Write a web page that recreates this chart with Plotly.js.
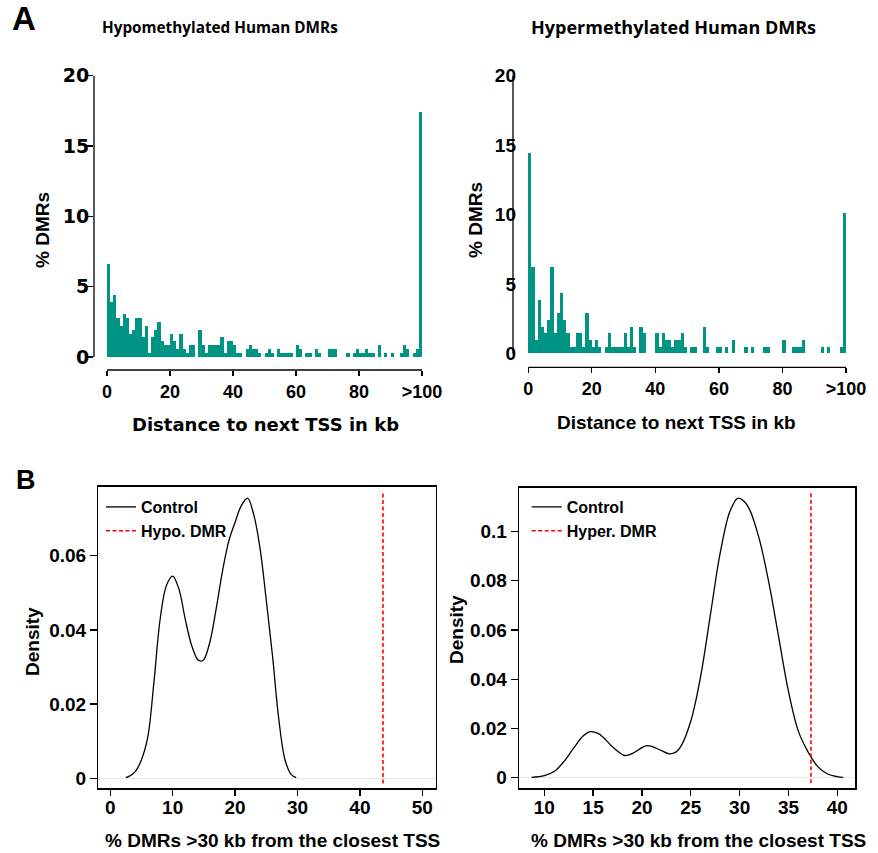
<!DOCTYPE html>
<html>
<head>
<meta charset="utf-8">
<script src="https://cdn.plot.ly/plotly-3.0.1.min.js"></script>
<style>html,body{margin:0;padding:0;background:#fff;}#chart{width:878px;height:853px;}</style>
</head>
<body>
<div id="chart"></div>
<script>
// ---------- DATA ----------
// Panel A: % DMRs per 1-kb bin of distance to next TSS (last bin = ">100")
const distTickVals = [0, 20, 40, 60, 80, 100];
const distTickText = ["0", "20", "40", "60", "80", ">100"];
const hypoPct = [
  6.65, 3.88, 4.43, 2.77, 2.22, 3.05, 2.77, 1.66, 1.94, 2.77,
  2.77, 1.39, 2.22, 0.28, 1.39, 1.94, 2.49, 1.11, 0.83, 0.83,
  1.66, 1.11, 0.55, 1.66, 0.55, 0.28, 0.83, 0.83, 0, 1.94,
  0.83, 0.28, 0.83, 0.83, 0.83, 0.83, 1.39, 0.28, 1.11, 1.11,
  0.83, 0.28, 0.28, 0, 0.55, 0.83, 0.55, 0.55, 0.28, 0,
  0.28, 0.55, 0.28, 0, 0.55, 0.28, 0.28, 0.28, 0.28, 0,
  0.83, 0.55, 0, 0.28, 0.28, 0, 0.55, 0.28, 0, 0,
  0.55, 0.55, 0.55, 0, 0, 0, 0.28, 0, 0.28, 0.55,
  0.28, 0.28, 0.55, 0.28, 0.28, 0, 0.83, 0, 0.28, 0,
  0.28, 0, 0, 0.28, 0.83, 0.55, 0, 0.28, 0.55, 17.4
];
const hyperPct = [
  14.42, 6.25, 0.96, 3.85, 1.92, 1.44, 2.40, 6.25, 1.44, 2.88,
  4.33, 2.40, 1.44, 0.48, 0.48, 1.44, 1.44, 0.48, 2.88, 0.96,
  0.48, 0.96, 0.48, 0, 0.48, 1.44, 0.48, 0.48, 0.48, 0.48,
  1.44, 0.48, 1.92, 0.48, 0, 1.92, 1.44, 0, 0, 0,
  1.44, 0.48, 1.44, 0.96, 0.96, 0.48, 0.96, 0.96, 1.44, 0.48,
  0, 0.48, 0.48, 0, 0, 1.92, 0.48, 0, 0, 0.48,
  0.48, 0, 0.48, 0, 0.96, 0, 0, 0, 0.48, 0,
  0.48, 0, 0, 0, 0.48, 0.48, 0, 0, 0, 0,
  0.96, 0, 0, 0.48, 0.48, 0.48, 0.96, 0, 0, 0,
  0, 0, 0.48, 0, 0.48, 0, 0, 0, 0.48, 10.1
];

// Panel B: density of control % DMRs >30 kb from closest TSS
const hypoDensX = [2.5, 3, 4, 5, 6, 7, 8, 9, 10, 11, 12, 13, 14, 14.5, 15, 16, 17, 18, 19, 20, 21, 22, 23, 24, 25, 26, 27, 28, 29, 29.8];
const hypoDensY = [0.0002, 0.0005, 0.0018, 0.005, 0.011, 0.026, 0.043, 0.052, 0.0545, 0.051, 0.043, 0.036, 0.032, 0.0316, 0.032, 0.037, 0.046, 0.056, 0.064, 0.069, 0.0735, 0.0755, 0.071, 0.062, 0.048, 0.033, 0.016, 0.005, 0.001, 0.0002];
const hypoDMR = 43.7;

const hyperDensX = [8.7, 10, 11, 12, 13, 14, 14.7, 15.5, 16, 17, 18, 18.3, 19, 20, 20.5, 21, 22, 22.8, 23.5, 24, 25, 26, 27, 28, 29, 29.8, 30.5, 31, 32, 33, 34, 35, 36, 37, 38, 39, 40, 40.6];
const hyperDensY = [0.0001, 0.0008, 0.0025, 0.0065, 0.012, 0.017, 0.0187, 0.018, 0.0165, 0.0125, 0.0094, 0.009, 0.0098, 0.0122, 0.013, 0.0127, 0.011, 0.0097, 0.0105, 0.0128, 0.023, 0.041, 0.066, 0.091, 0.108, 0.1134, 0.112, 0.109, 0.097, 0.079, 0.057, 0.035, 0.019, 0.0105, 0.0045, 0.0015, 0.0004, 0.0001];
const hyperDMR = 37.3;

const legendNames = ["Control", "Hypo. DMR", "Hyper. DMR"];
const titles = ["Hypomethylated Human DMRs", "Hypermethylated Human DMRs"];

// ---------- STYLE ----------
const W = 878, H = 853;
const px = x => x / W;
const py = y => 1 - y / H;
const ARIAL = "Liberation Sans, Arial, sans-serif";
const DEJA = "DejaVu Sans, sans-serif";
const TEAL = "#009485";
const yr3 = [-0.0027, 0.0786];
const yr4 = [-0.0043, 0.1177];

const binCenters = arr => arr.map((_, i) => i + 0.5);

const traces = [
  {type: "bar", x: binCenters(hypoPct), y: hypoPct, width: 1, xaxis: "x", yaxis: "y",
   marker: {color: TEAL, line: {width: 0}}, showlegend: false, hoverinfo: "skip"},
  {type: "bar", x: binCenters(hyperPct), y: hyperPct, width: 1, xaxis: "x2", yaxis: "y2",
   marker: {color: TEAL, line: {width: 0}}, showlegend: false, hoverinfo: "skip"},
  {type: "scatter", mode: "lines", x: hypoDensX, y: hypoDensY, xaxis: "x3", yaxis: "y3",
   line: {color: "#000", width: 1.3, shape: "spline", smoothing: 1}, name: legendNames[0], legend: "legend"},
  {type: "scatter", mode: "lines", x: [hypoDMR, hypoDMR], y: [yr3[0] + 0.0013, yr3[1] - 0.0013], xaxis: "x3", yaxis: "y3",
   line: {color: "#ff0000", width: 1.6, dash: "4px,2.5px"}, name: legendNames[1], legend: "legend"},
  {type: "scatter", mode: "lines", x: hyperDensX, y: hyperDensY, xaxis: "x4", yaxis: "y4",
   line: {color: "#000", width: 1.3, shape: "spline", smoothing: 1}, name: legendNames[0], legend: "legend2"},
  {type: "scatter", mode: "lines", x: [hyperDMR, hyperDMR], y: [yr4[0] + 0.002, yr4[1] - 0.002], xaxis: "x4", yaxis: "y4",
   line: {color: "#ff0000", width: 1.6, dash: "4px,2.5px"}, name: legendNames[2], legend: "legend2"}
];

const tickFontB = {family: ARIAL, size: 19, color: "#000", weight: "bold"};

const layout = {
  width: W, height: H,
  margin: {l: 0, r: 0, t: 0, b: 0},
  paper_bgcolor: "#fff", plot_bgcolor: "#fff",
  bargap: 0,
  showlegend: true,
  // top-left histogram
  xaxis: {domain: [px(94), px(422)], range: [-4.13, 100], anchor: "y",
    showgrid: false, zeroline: false, showline: false,
    ticks: "outside", ticklen: 5, tickwidth: 1.3, tickcolor: "#000",
    tickvals: distTickVals, ticktext: distTickText,
    tickfont: {family: ARIAL, size: 18, color: "#000", weight: "bold"}},
  yaxis: {domain: [py(370), py(75.7)], range: [-0.92, 20], anchor: "x",
    showgrid: false, zeroline: false, showline: false,
    ticks: "outside", ticklen: 6, tickwidth: 1.3, tickcolor: "#000", ticklabelstandoff: -6,
    tickvals: [0, 5, 10, 15, 20],
    tickfont: {family: DEJA, size: 19, color: "#000", weight: "bold"}},
  // top-right histogram
  xaxis2: {domain: [px(513), px(846)], range: [-4.8, 100], anchor: "y2",
    showgrid: false, zeroline: false, showline: false,
    ticks: "outside", ticklen: 5, tickwidth: 1.3, tickcolor: "#000",
    tickvals: distTickVals, ticktext: distTickText,
    tickfont: {family: ARIAL, size: 18, color: "#000", weight: "bold"}},
  yaxis2: {domain: [py(367.3), py(75.7)], range: [-1.0, 20], anchor: "x2",
    showgrid: false, zeroline: false, showline: false,
    ticks: "", ticklabelstandoff: -4,
    tickvals: [0, 5, 10, 15, 20],
    tickfont: {family: ARIAL, size: 19, color: "#000", weight: "bold"}},
  // bottom-left density
  xaxis3: {domain: [px(98.3), px(435.7)], range: [-1.92, 52.15], anchor: "y3",
    showgrid: false, zeroline: false, showline: true, mirror: true, linecolor: "#000", linewidth: 1.3,
    ticks: "outside", ticklen: 6, tickwidth: 1.3, tickcolor: "#000", ticklabelstandoff: -4,
    tickvals: [0, 10, 20, 30, 40, 50], tickfont: tickFontB},
  yaxis3: {domain: [py(788.3), py(486.7)], range: yr3, anchor: "x3",
    showgrid: false, zeroline: true, zerolinecolor: "#e6e6e6", zerolinewidth: 1,
    showline: true, mirror: true, linecolor: "#000", linewidth: 1.3,
    ticks: "outside", ticklen: 7, tickwidth: 1.3, tickcolor: "#000",
    tickvals: [0, 0.02, 0.04, 0.06], ticktext: ["0", "0.02", "0.04", "0.06"], tickfont: tickFontB},
  // bottom-right density
  xaxis4: {domain: [px(519), px(855.3)], range: [7.41, 41.84], anchor: "y4",
    showgrid: false, zeroline: false, showline: true, mirror: true, linecolor: "#000", linewidth: 1.3,
    ticks: "outside", ticklen: 6, tickwidth: 1.3, tickcolor: "#000", ticklabelstandoff: -4,
    tickvals: [10, 15, 20, 25, 30, 35, 40], tickfont: tickFontB},
  yaxis4: {domain: [py(788.3), py(487.7)], range: yr4, anchor: "x4",
    showgrid: false, zeroline: true, zerolinecolor: "#e6e6e6", zerolinewidth: 1,
    showline: true, mirror: true, linecolor: "#000", linewidth: 1.3,
    ticks: "outside", ticklen: 7, tickwidth: 1.3, tickcolor: "#000",
    tickvals: [0, 0.02, 0.04, 0.06, 0.08, 0.1], ticktext: ["0", "0.02", "0.04", "0.06", "0.08", "0.1"], tickfont: tickFontB},
  legend: {x: px(101), y: py(490), xanchor: "left", yanchor: "top", bgcolor: "rgba(0,0,0,0)",
    borderwidth: 0, tracegroupgap: 0, itemwidth: 30,
    font: {family: ARIAL, size: 16, color: "#000", weight: "bold"}},
  legend2: {x: px(526.7), y: py(490), xanchor: "left", yanchor: "top", bgcolor: "rgba(0,0,0,0)",
    borderwidth: 0, tracegroupgap: 0, itemwidth: 30,
    font: {family: ARIAL, size: 16, color: "#000", weight: "bold"}},
  shapes: [
    {type: "line", xref: "x", yref: "y domain", x0: 0, x1: 100, y0: 0, y1: 0, line: {color: "#000", width: 1.3}},
    {type: "line", xref: "x domain", yref: "y", x0: 0, x1: 0, y0: 0, y1: 20, line: {color: "#000", width: 1.3}},
    {type: "line", xref: "x2", yref: "y2 domain", x0: 0, x1: 100, y0: 0, y1: 0, line: {color: "#000", width: 1.3}},
    {type: "line", xref: "x2 domain", yref: "y2", x0: 0, x1: 0, y0: 0, y1: 20, line: {color: "#000", width: 1.3}}
  ],
  annotations: [
    {text: "A", x: px(24), y: py(18), xref: "paper", yref: "paper", showarrow: false, xanchor: "center", yanchor: "middle",
     font: {family: ARIAL, size: 33, color: "#000", weight: "bold"}},
    {text: "B", x: px(26), y: py(480), xref: "paper", yref: "paper", showarrow: false, xanchor: "center", yanchor: "middle",
     font: {family: ARIAL, size: 27, color: "#000", weight: "bold"}},
    {text: titles[0], x: px(220), y: py(27), xref: "paper", yref: "paper", showarrow: false, xanchor: "center", yanchor: "middle",
     font: {family: "Open Sans, sans-serif", size: 15.3, color: "#000", weight: "bold"}},
    {text: titles[1], x: px(673), y: py(27), xref: "paper", yref: "paper", showarrow: false, xanchor: "center", yanchor: "middle",
     font: {family: "Open Sans, sans-serif", size: 18, color: "#000", weight: "bold"}},
    {text: "% DMRs", x: px(42), y: py(230), xref: "paper", yref: "paper", showarrow: false, textangle: -90, xanchor: "center", yanchor: "middle",
     font: {family: ARIAL, size: 19, color: "#000", weight: "bold"}},
    {text: "% DMRs", x: px(476), y: py(220), xref: "paper", yref: "paper", showarrow: false, textangle: -90, xanchor: "center", yanchor: "middle",
     font: {family: ARIAL, size: 19, color: "#000", weight: "bold"}},
    {text: "Distance to next TSS in kb", x: px(265), y: py(424), xref: "paper", yref: "paper", showarrow: false, xanchor: "center", yanchor: "middle",
     font: {family: DEJA, size: 18, color: "#000", weight: "bold"}},
    {text: "Distance to next TSS in kb", x: px(676), y: py(423), xref: "paper", yref: "paper", showarrow: false, xanchor: "center", yanchor: "middle",
     font: {family: ARIAL, size: 19, color: "#000", weight: "bold"}},
    {text: "Density", x: px(32), y: py(642), xref: "paper", yref: "paper", showarrow: false, textangle: -90, xanchor: "center", yanchor: "middle",
     font: {family: ARIAL, size: 19, color: "#000", weight: "bold"}},
    {text: "Density", x: px(456), y: py(630), xref: "paper", yref: "paper", showarrow: false, textangle: -90, xanchor: "center", yanchor: "middle",
     font: {family: ARIAL, size: 19, color: "#000", weight: "bold"}},
    {text: "% DMRs >30 kb from the closest TSS", x: px(272.5), y: py(840), xref: "paper", yref: "paper", showarrow: false, xanchor: "center", yanchor: "middle",
     font: {family: ARIAL, size: 19, color: "#000", weight: "bold"}},
    {text: "% DMRs >30 kb from the closest TSS", x: px(698), y: py(840), xref: "paper", yref: "paper", showarrow: false, xanchor: "center", yanchor: "middle",
     font: {family: ARIAL, size: 19, color: "#000", weight: "bold"}}
  ]
};

Plotly.newPlot("chart", traces, layout, {displayModeBar: false, staticPlot: true});
</script>
</body>
</html>
